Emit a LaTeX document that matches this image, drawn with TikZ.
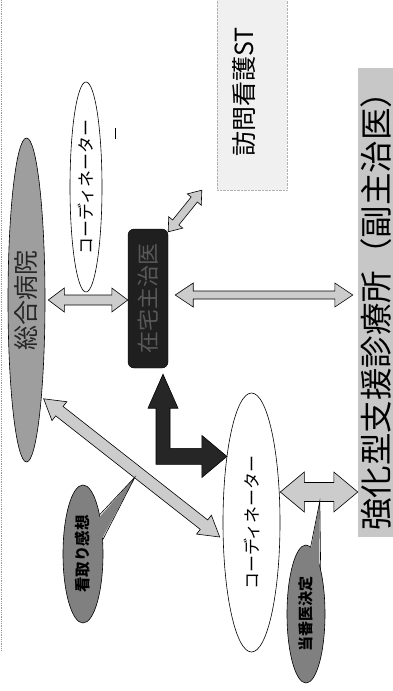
\documentclass[tikz,border=0pt]{standalone}
\usepackage{fontspec}
\usepackage{graphicx}
\newfontfamily\jp{Noto Sans CJK JP}
\usetikzlibrary{shapes.geometric,calc}
\tikzset{
  oval/.style={ellipse, draw=black, line width=0.6pt, inner sep=0pt},
  blk/.style={draw=black, line width=0.6pt, fill=black!20, line join=miter},
  callout/.style={oval, fill=black!50},
}
\newcommand\fatarrow[6][]{%
  \coordinate (fa1) at ($(#2)!#6!(#3)$);
  \coordinate (fa2) at ($(#3)!#6!(#2)$);
  \draw[blk,#1] (#2) -- ($(fa1)!#5!90:(#2)$) -- ($(fa1)!#4!90:(#2)$)
    -- ($(fa2)!#4!-90:(#3)$) -- ($(fa2)!#5!-90:(#3)$) -- (#3)
    -- ($(fa2)!#5!90:(#3)$) -- ($(fa2)!#4!90:(#3)$)
    -- ($(fa1)!#4!-90:(#2)$) -- ($(fa1)!#5!-90:(#2)$) -- cycle;
}
\newcommand\vtext[3][black]{\rotatebox{90}{\color{#1}\jp\fontsize{#2}{#2}\selectfont #3}}
\begin{document}
\begin{tikzpicture}[x=1pt,y=-1pt]
\useasboundingbox (0,0) rectangle (392,691);
\fill[white] (0,0) rectangle (392,691);
% page edge
\draw[black!40, densely dotted, line width=0.8pt] (1.5,0) -- (1.5,650);

% boxes
\node[fill=black!6, draw=black!30, densely dotted, minimum width=70pt, minimum height=192pt, inner sep=0pt] (homonbox) at (252,94) {};
\node[inner sep=0pt] (homon) at (244,92) {\vtext{25}{訪問看護ST}};
\node[fill=black!22, minimum width=38pt, minimum height=469pt, inner sep=0pt] (kyokabox) at (377,302.5) {};
\node[inner sep=0pt] (kyoka) at (376,303) {\vtext{32.5}{強化型支援診療所（副主治医）}};

% ellipses
\node[oval, fill=black!38, minimum width=37pt, minimum height=324pt] (sogo) at (26.5,300) {\vtext[black!85]{25}{総合病院}};
\node[oval, fill=white, minimum width=32pt, minimum height=210pt] (coordA) at (86,187) {\vtext{17}{コーディネーター}};
\node[oval, fill=white, minimum width=57pt, minimum height=259pt] (coordB) at (251.5,522.5) {\vtext{17}{コーディネーター}};
\node[draw=black, fill=black!88, rounded corners=6pt, minimum width=40pt, minimum height=139pt, inner sep=0pt] (zaitaku) at (148,298.5) {\vtext[black!65]{22}{在宅主治医}};

\draw[line width=0.8pt] (115,128) -- (115,139);

% connector end points
\coordinate (a1) at ($(sogo.east)+(3,0)$);
\coordinate (a2) at (zaitaku.west |- a1);
\coordinate (b1) at ($(zaitaku.east)+(7,-3.5)$);
\coordinate (b2) at ($(kyokabox.west |- b1)+(-5,0)$);
\coordinate (c1) at ($(zaitaku.north east)+(0,3)$);
\coordinate (c2) at ($(homonbox.south west)+(-15,0)$);
\coordinate (d1) at ($(sogo.-81)+(2,3)$);
\coordinate (d2) at ($(coordB.west)+(-3,14.5)$);
\coordinate (e1) at ($(coordB.east)+(0,-30.5)$);
\coordinate (e2) at (kyokabox.west |- e1);

\fatarrow{a1}{a2}{5pt}{12pt}{16pt}
\fatarrow{b1}{b2}{4pt}{12pt}{18pt}
\fatarrow{c1}{c2}{4pt}{9pt}{12pt}
\fatarrow{d1}{d2}{6pt}{12pt}{20pt}
\fatarrow{e1}{e2}{9.5pt}{20pt}{24pt}

% L-shaped black arrow from coordinator to zaitaku
\coordinate (Lup) at ($(zaitaku.south)+(15,6)$);
\coordinate (Lrt) at ($(coordB.110)+(0,1.5)$);
\draw[draw=black, fill=black!85, line width=0.6pt, line join=miter]
  let \p1=(Lup), \p2=(Lrt) in
  (\x1-7pt,\y2-8pt) -- (\x1-7pt,\y1-34pt) -- (\x1-15pt,\y1-34pt) -- (\p1)
  -- (\x1+15pt,\y1-34pt) -- (\x1+7pt,\y1-34pt) -- (\x1+7pt,\y2+8pt)
  -- (\x2-25pt,\y2+8pt) -- (\x2-25pt,\y2+21pt) -- (\p2)
  -- (\x2-25pt,\y2-21pt) -- (\x2-25pt,\y2-8pt) -- cycle;

% callouts
\node[callout, minimum width=40pt, minimum height=138pt] (mitori) at (83,554) {\vtext{15.5}{\bfseries 看取り感想}};
\node[callout, minimum width=38pt, minimum height=138pt] (toban) at (306,614) {\vtext{15}{\bfseries 当番医決定}};
\coordinate (mtip) at ($(d1)!0.53!(d2)+(-2,5)$);
\coordinate (ttip) at ($(e1)!0.51!(e2)+(0,9)$);
\fill[black!50] ($(mitori.center)!0.9!(mitori.67)$) -- (mtip) -- ($(mitori.center)!0.9!(mitori.36)$) -- cycle;
\draw[line width=0.6pt, line join=miter] (mitori.67) -- (mtip) -- (mitori.36);
\fill[black!50] ($(toban.center)!0.9!(toban.86)$) -- (ttip) -- ($(toban.center)!0.9!(toban.72)$) -- cycle;
\draw[line width=0.6pt, line join=miter] (toban.86) -- (ttip) -- (toban.72);
\end{tikzpicture}
\end{document}
